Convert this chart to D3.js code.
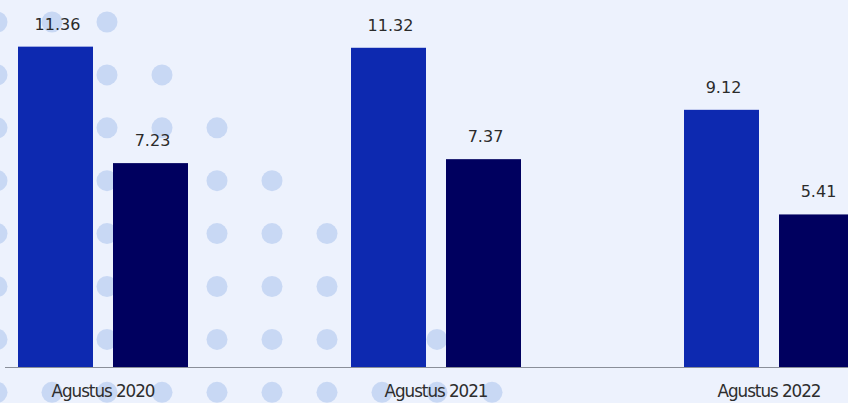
<!DOCTYPE html>
<html>
<head>
<meta charset="utf-8">
<script src="https://cdn.jsdelivr.net/npm/d3@7"></script>
<style>
  html, body { margin: 0; padding: 0; background: #edf2fd; }
  svg { display: block; }
</style>
</head>
<body>
<svg id="chart" width="848" height="403"></svg>
<script>
const categories = ["Agustus 2020", "Agustus 2021", "Agustus 2022"];
const seriesNames = ["s1", "s2"];
const series1 = [11.36, 11.32, 9.12];
const series2 = [7.23, 7.37, 5.41];
const valueLabels1 = ["11.36", "11.32", "9.12"];
const valueLabels2 = ["7.23", "7.37", "5.41"];

const W = 848, H = 403;
const colors = ["#0d29b0", "#00005f"];
const svg = d3.select("#chart");

svg.append("rect").attr("width", W).attr("height", H).attr("fill", "#edf2fd");

// decorative dot pattern
const dots = [];
for (let r = 0; r < 8; r++) {
  for (let c = 0; c <= r + 2 && c < 10; c++) {
    dots.push({ x: -3 + 55 * c, y: 22 + 52.9 * r });
  }
}
svg.append("g").selectAll("circle").data(dots).join("circle")
  .attr("cx", d => d.x).attr("cy", d => d.y).attr("r", 10.5)
  .attr("fill", "#c8d8f4");

const baseY = 367;
const x0 = d3.scaleBand().domain(categories).range([-63.5, 935.5])
  .paddingInner(163 / 333).paddingOuter(163 / 666);
const x1 = d3.scaleBand().domain(seriesNames).range([0, x0.bandwidth()])
  .paddingInner(20 / 95).paddingOuter(0);
const y = d3.scaleLinear().domain([0, 12]).range([baseY, baseY - 12 * 28.2]);

const rows = categories.map((c, i) => ({
  cat: c,
  vals: [
    { s: "s1", v: series1[i], label: valueLabels1[i], color: colors[0] },
    { s: "s2", v: series2[i], label: valueLabels2[i], color: colors[1] }
  ]
}));

// baseline
svg.append("line").attr("x1", 5).attr("x2", W)
  .attr("y1", baseY + 0.5).attr("y2", baseY + 0.5)
  .attr("stroke", "#8a8f99").attr("stroke-width", 1.2);

const g = svg.append("g").selectAll("g").data(rows).join("g")
  .attr("transform", d => `translate(${x0(d.cat)},0)`);

g.selectAll("rect").data(d => d.vals).join("rect")
  .attr("x", d => x1(d.s)).attr("width", x1.bandwidth())
  .attr("y", d => y(d.v)).attr("height", d => baseY - y(d.v))
  .attr("fill", d => d.color);

g.selectAll("text.val").data(d => d.vals).join("text")
  .attr("class", "val")
  .attr("x", d => x1(d.s) + x1.bandwidth() / 2 + 2)
  .attr("y", d => y(d.v) - 17)
  .attr("text-anchor", "middle")
  .attr("font-family", "DejaVu Sans, sans-serif")
  .attr("font-size", 16)
  .attr("fill", "#2b2b2b")
  .text(d => d.label);

// category labels
svg.append("g").selectAll("text").data(categories).join("text")
  .attr("x", d => x0(d) + x0.bandwidth() / 2)
  .attr("y", 397)
  .attr("text-anchor", "middle")
  .attr("font-family", "DejaVu Sans Condensed, DejaVu Sans, sans-serif")
  .attr("font-size", 18)
  .attr("letter-spacing", -1)
  .attr("textLength", 103)
  .attr("lengthAdjust", "spacingAndGlyphs")
  .attr("fill", "#2e2e2e")
  .text(d => d);
</script>
</body>
</html>
